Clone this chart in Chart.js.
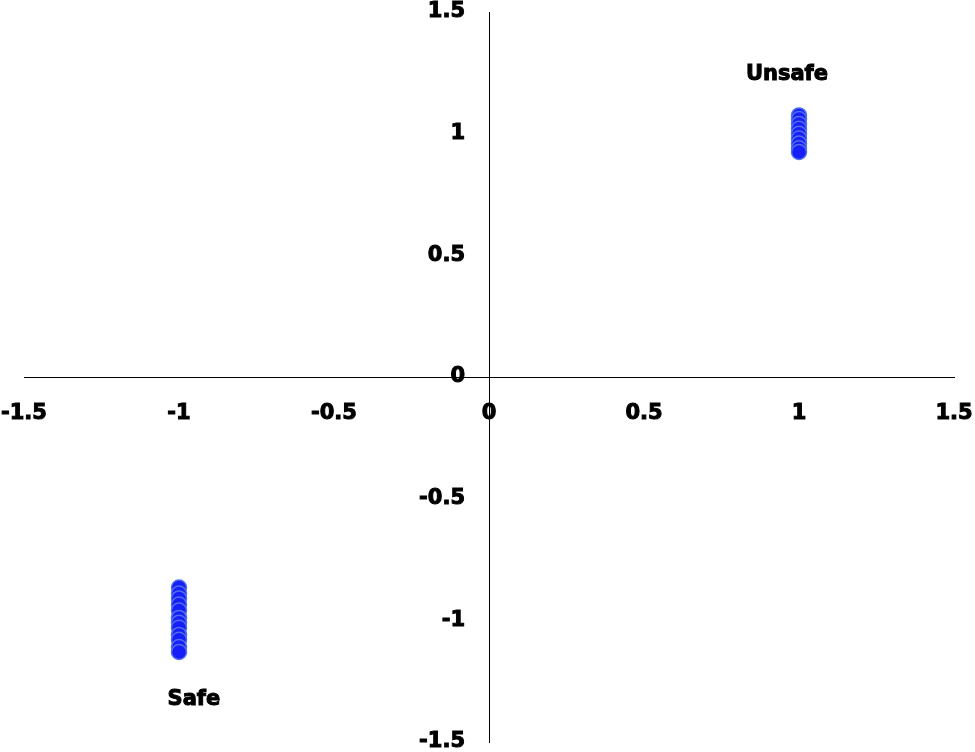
<!DOCTYPE html>
<html>
<head>
<meta charset="utf-8">
<script src="https://cdn.jsdelivr.net/npm/chart.js@4/dist/chart.umd.min.js"></script>
<style>
    html, body { margin: 0; padding: 0; background: #fff; }
    #wrap { width: 975px; height: 752px; }
</style>
</head>
<body>
<div id="wrap"><canvas id="chart"></canvas></div>
<script>
// valores
var unsafeX = [1, 1, 1, 1, 1, 1, 1, 1, 1];
var unsafeY = [1.075, 1.06, 1.04, 1.02, 1.0, 0.98, 0.96, 0.94, 0.925];
var safeX = [-1, -1, -1, -1, -1, -1, -1, -1, -1, -1, -1, -1];
var safeY = [-0.865, -0.89, -0.91, -0.935, -0.96, -0.99, -1.01, -1.03, -1.06, -1.08, -1.11, -1.13];
var etiquetas = ["Unsafe", "Safe"];
var etiquetasX = [0.961, -0.952];
var etiquetasY = [1.245, -1.325];

function puntos(xs, ys) {
    return xs.map(function (x, i) {
        return { x: x, y: ys[i] };
    });
}

var fuente = { family: "DejaVu Sans", weight: "bold", size: 21 };

function sinPadding(s) {
    s.paddingTop = 0;
    s.paddingBottom = 0;
    s.paddingLeft = 0;
    s.paddingRight = 0;
}

var textos = {
    id: "textos",
    afterDatasetsDraw: function (chart) {
        var ctx = chart.ctx;
        ctx.save();
        ctx.fillStyle = "#000";
        ctx.strokeStyle = "#000";
        ctx.lineWidth = 1;
        ctx.font = "bold 21px 'DejaVu Sans'";
        ctx.textAlign = "center";
        ctx.textBaseline = "middle";
        etiquetas.forEach(function (t, i) {
            var px = chart.scales.x.getPixelForValue(etiquetasX[i]);
            var py = chart.scales.y.getPixelForValue(etiquetasY[i]);
            ctx.fillText(t, px, py);
            ctx.strokeText(t, px, py);
        });
        ctx.restore();
    }
};

var canvas = document.getElementById('chart').getContext('2d');
window.grafico = new Chart(canvas, {
    type: "scatter",
    data: {
        datasets: [{
            label: "Unsafe",
            data: puntos(unsafeX, unsafeY),
            backgroundColor: "rgb(22, 30, 250)",
            borderColor: "rgb(80, 110, 230)",
            borderWidth: 1.5,
            pointRadius: 7.5
        }, {
            label: "Safe",
            data: puntos(safeX, safeY),
            backgroundColor: "rgb(22, 30, 250)",
            borderColor: "rgb(80, 110, 230)",
            borderWidth: 1.5,
            pointRadius: 7.5
        }]
    },
    options: {
        responsive: true,
        maintainAspectRatio: false,
        animation: false,
        layout: { padding: { left: 24, right: 21, top: 12, bottom: 10 } },
        plugins: {
            legend: { display: false },
            tooltip: { enabled: false }
        },
        scales: {
            x: {
                type: "linear",
                position: "center",
                min: -1.5,
                max: 1.5,
                afterFit: function (s) { s.height = 0; sinPadding(s); },
                ticks: {
                    stepSize: 0.5, padding: 24, color: "#000", font: fuente, maxRotation: 0,
                    textStrokeColor: "#000", textStrokeWidth: 1,
                    callback: function (v) { return String(v); }
                },
                grid: { color: "rgba(0,0,0,0)", drawTicks: false },
                border: { display: true, color: "#000", width: 1 }
            },
            y: {
                type: "linear",
                position: "center",
                min: -1.5,
                max: 1.5,
                afterFit: function (s) { s.width = 0; sinPadding(s); },
                ticks: {
                    stepSize: 0.5, padding: 24, color: "#000", font: fuente,
                    textStrokeColor: "#000", textStrokeWidth: 1,
                    callback: function (v) { return String(v); }
                },
                grid: { color: "rgba(0,0,0,0)", drawTicks: false },
                border: { display: true, color: "#000", width: 1 }
            }
        }
    },
    plugins: [textos]
});
</script>
</body>
</html>
